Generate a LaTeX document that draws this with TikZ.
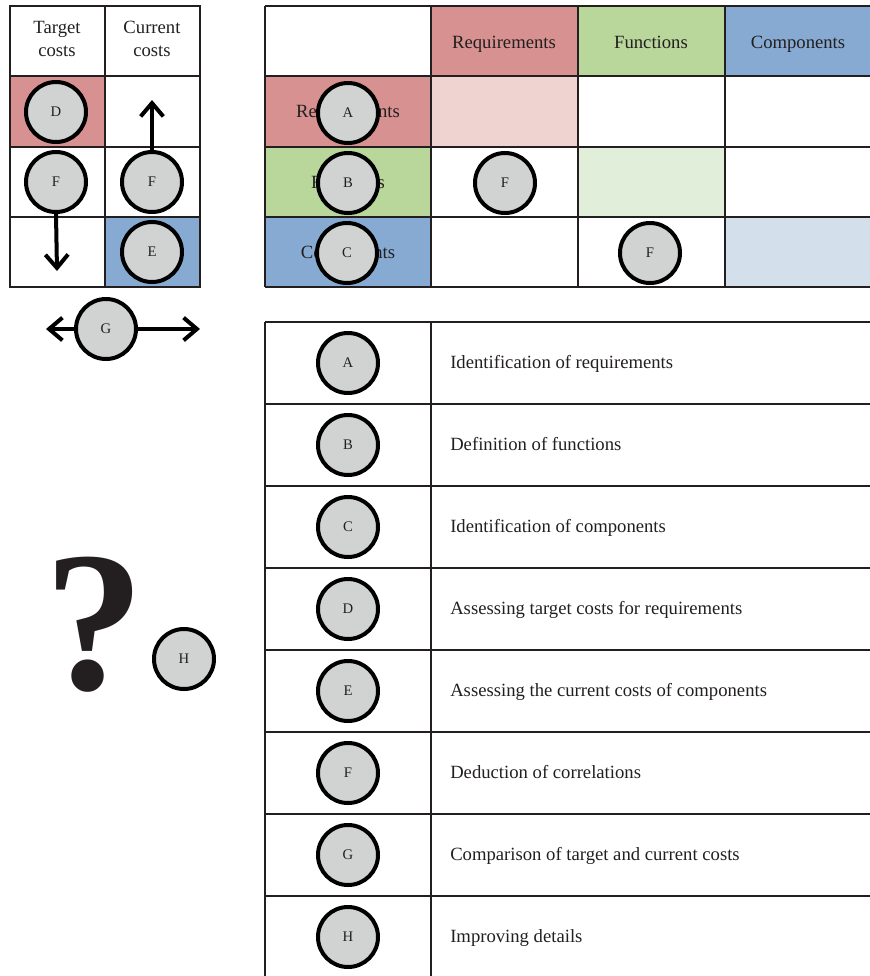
\documentclass[tikz,border=0pt]{standalone}
\usepackage{fontspec}
\setmainfont{Liberation Serif}
\usetikzlibrary{arrows.meta}

\definecolor{inkline}{HTML}{231F20}
\definecolor{reqred}{HTML}{D69190}
\definecolor{funcgreen}{HTML}{B9D69B}
\definecolor{compblue}{HTML}{86AAD2}
\definecolor{reqlight}{HTML}{EFD3D1}
\definecolor{funclight}{HTML}{E1EED9}
\definecolor{complight}{HTML}{D3E0EB}
\definecolor{badgegray}{HTML}{D1D3D2}

\tikzset{
	gridline/.style={line width=1.5pt, draw=inkline},
	badge/.style={circle, draw=black, line width=3pt, fill=badgegray, minimum size=45pt, inner sep=0pt, text=inkline, font=\fontsize{11}{13}\selectfont},
	label/.style={text=inkline, font=\fontsize{14}{17}\selectfont, align=center, inner sep=0pt},
	arr/.style={line width=3pt, -{Straight Barb[length=10pt, width=17pt, line width=3pt]}}
}

\begin{document}
\begin{tikzpicture}[x=0.75pt, y=-0.75pt]
	\useasboundingbox (0,0) rectangle (870,976);

	\fill[reqred] (10,76) rectangle (105,147);
	\fill[compblue] (105,217) rectangle (200,287);
	\draw[gridline] (10,6) rectangle (200,287);
	\draw[gridline] (105,6) -- (105,287);
	\foreach \y in {76,147,217}
		\draw[gridline] (10,\y) -- (200,\y);

	\fill[reqred] (431,6) rectangle (578,76);
	\fill[funcgreen] (578,6) rectangle (725,76);
	\fill[compblue] (725,6) rectangle (870,76);
	\fill[reqred] (265,76) rectangle (431,147);
	\fill[funcgreen] (265,147) rectangle (431,217);
	\fill[compblue] (265,217) rectangle (431,287);
	\fill[reqlight] (431,76) rectangle (578,147);
	\fill[funclight] (578,147) rectangle (725,217);
	\fill[complight] (725,217) rectangle (870,287);
	\foreach \y in {6,76,147,217,287}
		\draw[gridline] (265,\y) -- (870,\y);
	\foreach \x in {265,431,578,725}
		\draw[gridline] (\x,6) -- (\x,287);

	\draw[gridline] (265,322) -- (870,322);
	\draw[gridline] (265,322) -- (265,976);
	\draw[gridline] (431,322) -- (431,976);
	\foreach \y in {404,486,568,650,732,814,896}
		\draw[gridline] (265,\y) -- (870,\y);

	\node[label] (htarget) at (57,39) {Target\\costs};
	\node[label] (hcurrent) at (152,39) {Current\\costs};
	\node[label, anchor=base] (hreq) at (504,48) {Requirements};
	\node[label, anchor=base] (hfunc) at (651,48) {Functions};
	\node[label, anchor=base] (hcomp) at (798,48) {Components};
	\node[label, anchor=base] (rreq) at (348,117) {Requirements};
	\node[label, anchor=base] (rfunc) at (348,188) {Functions};
	\node[label, anchor=base] (rcomp) at (348,258) {Components};

	\node[badge] (dtarget) at (56,112) {D};
	\node[badge] (ftarget) at (56,182) {F};
	\node[badge] (fcurrent) at (152,182) {F};
	\node[badge] (ecurrent) at (152,252) {E};
	\node[badge] (gcompare) at (106,329) {G};

	\node[badge] (areq) at (348,113) {A};
	\node[badge] (bfunc) at (348,183) {B};
	\node[badge] (ccomp) at (347,253) {C};
	\node[badge] (freqfunc) at (505,183) {F};
	\node[badge] (ffunccomp) at (650,253) {F};

	\coordinate (uptip) at (152,100);
	\coordinate (downtip) at (57,271);
	\coordinate (lefttip) at (46,329);
	\coordinate (righttip) at (200,329);
	\draw[arr] (fcurrent.north) -- (uptip);
	\draw[arr] (ftarget.south) -- (downtip);
	\draw[arr] (gcompare.west) -- (lefttip);
	\draw[arr] (gcompare.east) -- (righttip);

	\node[text=inkline, inner sep=0pt, font=\fontsize{150}{150}\selectfont\bfseries] (qmark) at (95,625) {?};
	\node[badge] (himprove) at (184,659) {H};

	\foreach \k/\txt [count=\i from 0] in {A/Identification of requirements, B/Definition of functions, C/Identification of components, D/Assessing target costs for requirements, E/Assessing the current costs of components, F/Deduction of correlations, G/Comparison of target and current costs, H/Improving details}
	{
		\node[badge] (key\k) at (348,363+82*\i) {\k};
		\node[label, anchor=base west] (desc\k) at (450,368+82*\i) {\txt};
	}
\end{tikzpicture}
\end{document}
